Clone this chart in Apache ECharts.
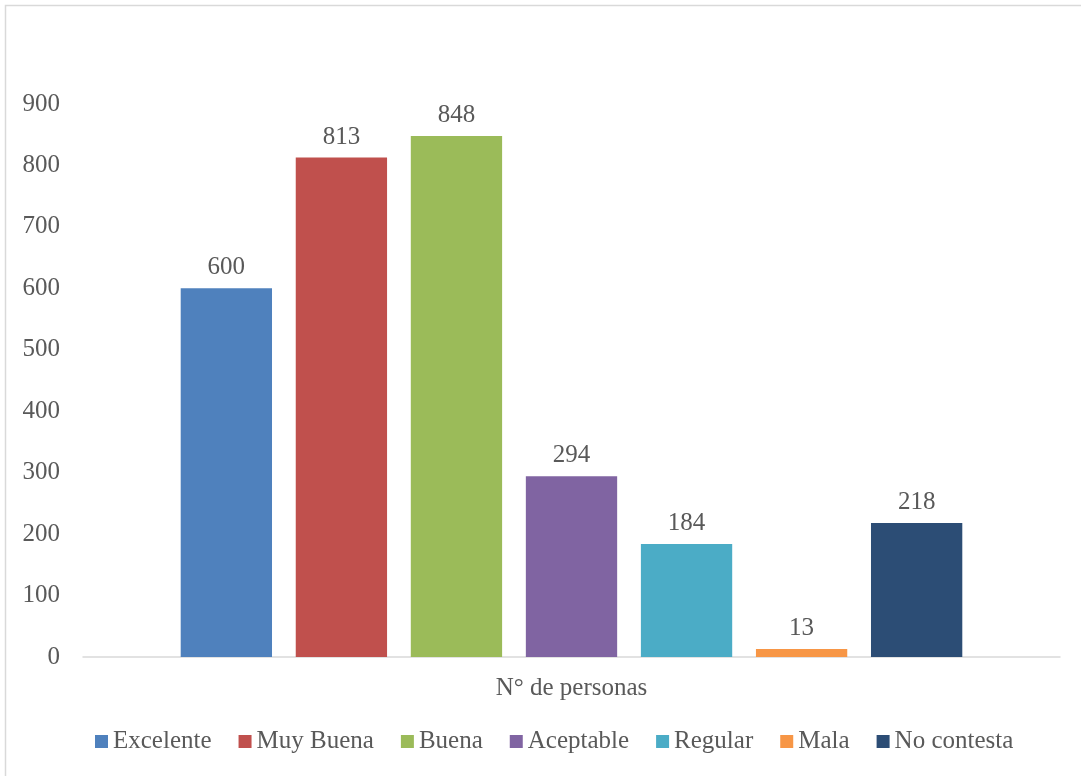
<!DOCTYPE html>
<html>
<head>
<meta charset="utf-8">
<script src="https://cdn.jsdelivr.net/npm/echarts@6/dist/echarts.min.js"></script>
<style>
html,body{margin:0;padding:0;background:#fff;}
#chart{width:1081px;height:776px;}
</style>
</head>
<body>
<div id="chart"></div>
<script>
const categories = ['N° de personas'];
const seriesNames = ['Excelente', 'Muy Buena', 'Buena', 'Aceptable', 'Regular', 'Mala', 'No contesta'];
const seriesValues = [600, 813, 848, 294, 184, 13, 218];
const seriesColors = ['#4f81bd', '#c0504d', '#9bbb59', '#8064a2', '#4bacc6', '#f79646', '#2c4d75'];
const yTicks = [0, 100, 200, 300, 400, 500, 600, 700, 800, 900];

const FONT = '"Liberation Serif", "DejaVu Serif", serif';
const TXT = '#595959';
const FS = 25;

const chart = echarts.init(document.getElementById('chart'), null, {renderer: 'canvas'});
const series = seriesNames.map((name, i) => ({
  name: name,
  type: 'bar',
  data: [seriesValues[i]],
  itemStyle: {color: seriesColors[i]},
  barGap: '26%',
  barCategoryGap: '20%',
  label: {
    show: true,
    position: 'top',
    distance: 8,
    color: TXT,
    fontFamily: FONT,
    fontSize: FS
  }
}));

chart.setOption({
  animation: false,
  backgroundColor: '#fff',
  graphic: [{
    type: 'rect',
    shape: {x: 5.5, y: 5.5, width: 1100, height: 800},
    style: {fill: 'none', stroke: '#d9d9d9', lineWidth: 1.5},
    silent: true
  }],
  grid: {left: 83, right: 21, top: 104, bottom: 119, containLabel: false},
  legend: {
    bottom: 17,
    left: 90,
    icon: 'rect',
    itemWidth: 13,
    itemHeight: 13,
    itemGap: 27,
    textStyle: {color: TXT, fontFamily: FONT, fontSize: FS},
    data: seriesNames
  },
  xAxis: {
    type: 'category',
    data: categories,
    axisLine: {lineStyle: {color: '#d9d9d9', width: 1.5}},
    axisTick: {show: false},
    axisLabel: {color: TXT, fontFamily: FONT, fontSize: FS, margin: 19}
  },
  yAxis: {
    type: 'value',
    min: yTicks[0],
    max: yTicks[yTicks.length - 1],
    interval: 100,
    axisLine: {show: false},
    axisTick: {show: false},
    splitLine: {show: false},
    axisLabel: {color: TXT, fontFamily: FONT, fontSize: FS, margin: 23}
  },
  series: series
});
</script>
</body>
</html>
